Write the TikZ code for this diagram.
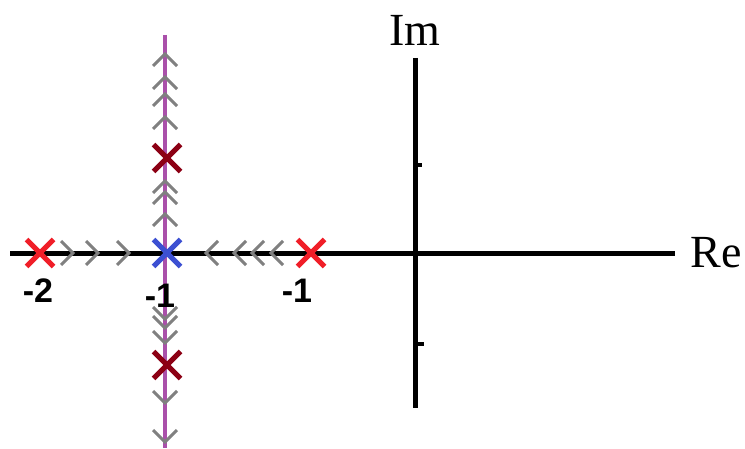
\documentclass[tikz,border=0pt]{standalone}
\usepackage{fontspec}
\setmainfont{Liberation Serif}
\newfontfamily\lblfont{Liberation Sans}
\usetikzlibrary{shapes.misc}
\definecolor{xred}{RGB}{240,30,40}
\definecolor{xdark}{RGB}{140,0,20}
\definecolor{xblue}{RGB}{60,80,210}
\definecolor{xpurple}{RGB}{170,80,170}
\definecolor{xgray}{RGB}{128,128,128}
\tikzset{
  axisline/.style={line width=5pt,black},
  tickline/.style={line width=4pt,black},
  locus/.style={line width=4pt,xpurple},
  crossmark/.style={cross out,draw,line width=5pt,minimum size=22pt,inner sep=0pt},
  chevst/.style={xgray,line width=3pt,line join=miter},
  chev/.pic={\draw[chevst] (-12,-6) -- (0,6) -- (12,-6);},
  axlabel/.style={font=\fontsize{46}{50}\selectfont},
  numlabel/.style={font=\lblfont\bfseries\fontsize{34}{38}\selectfont}
}
\begin{document}
\begin{tikzpicture}[x=1pt,y=1pt]
\useasboundingbox (0,0) rectangle (745,448);
% axes
\coordinate (reL) at (10,195);
\coordinate (reR) at (675,195);
\coordinate (imT) at (415,390);
\coordinate (imB) at (415,40);
\draw[axisline] (reL) -- (reR);
\draw[axisline] (imT) -- (imB);
\coordinate (t1a) at (413,283); \coordinate (t1b) at (422,283);
\coordinate (t2a) at (413,104); \coordinate (t2b) at (424,104);
\draw[tickline] (t1a) -- (t1b);
\draw[tickline] (t2a) -- (t2b);
\node[axlabel] (im) at (415,418) {Im};
\node[axlabel] (re) at (716,195) {Re};
% locus
\coordinate (locT) at (165,413);
\coordinate (locB) at (165,0);
\draw[locus] (locT) -- (locB);
% chevrons
\foreach \y in {388,365,348,325,261,250,228} \pic at (165,\y) {chev};
\foreach \y in {135,126,111,51,12} \pic[rotate=180] at (165,\y) {chev};
\foreach \x in {67,92,123} \pic[rotate=-90] at (\x,195) {chev};
\foreach \x in {212,240,258,277} \pic[rotate=90] at (\x,195) {chev};
% poles
\node[crossmark,xred] (p1) at (40,195) {};
\node[crossmark,xred] (p2) at (311,195) {};
\node[crossmark,xblue] (pb) at (167,195) {};
\node[crossmark,xdark] (pu) at (167,290) {};
\node[crossmark,xdark] (pd) at (167,83) {};
% labels
\node[numlabel] (l1) at (38,157) {-2};
\node[numlabel] (l2) at (160,152) {-1};
\node[numlabel] (l3) at (297,157) {-1};
\end{tikzpicture}
\end{document}
